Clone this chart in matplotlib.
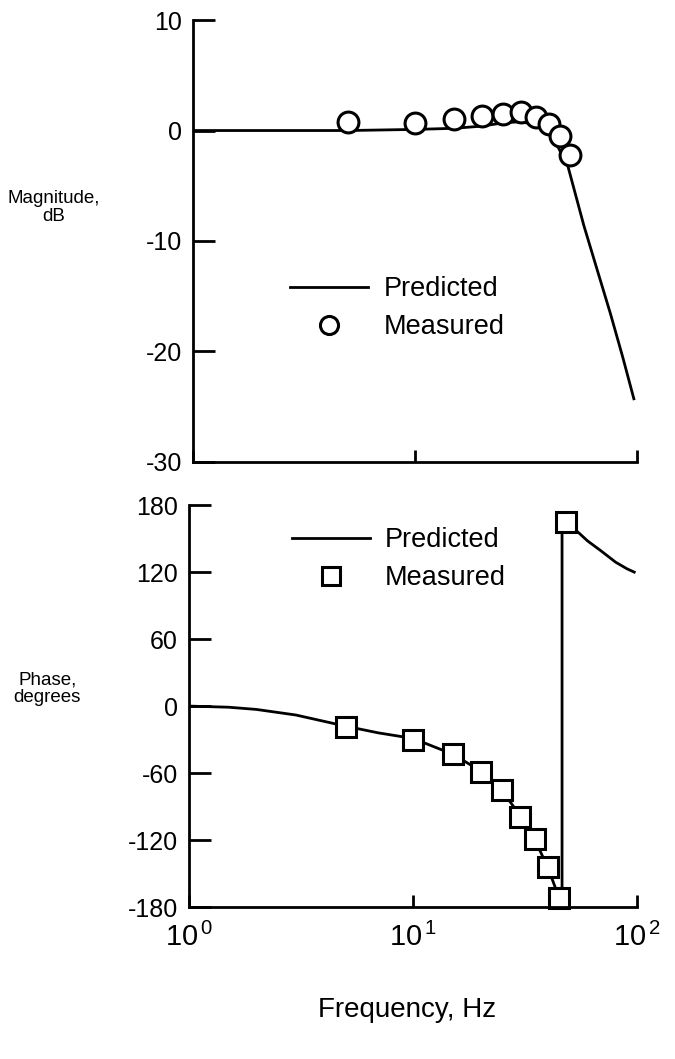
import matplotlib.pyplot as plt
from matplotlib.lines import Line2D

plt.rcParams['font.family'] = ['Liberation Sans', 'DejaVu Sans']
plt.rcParams['mathtext.fontset'] = 'custom'
plt.rcParams['mathtext.rm'] = 'Liberation Sans'
plt.rcParams['mathtext.it'] = 'Liberation Sans'
plt.rcParams['axes.unicode_minus'] = False

# magnitude data
mag_freq = [5, 10, 15, 20, 25, 30, 35, 40, 45, 50]
mag_meas = [0.75, 0.65, 1.0, 1.3, 1.5, 1.7, 1.2, 0.6, -0.5, -2.2]
mag_pred_freq = [1, 5, 10, 15, 20, 25, 30, 35, 40, 44, 48.7, 57.5, 66, 75.8, 86, 96.6]
mag_pred = [0, 0, 0.1, 0.2, 0.4, 0.7, 0.8, 0.5, -0.3, -1.5, -3.2, -8.6, -12.6, -16.6, -20.5, -24.3]

# phase data
phase_freq = [5, 10, 15, 20, 25, 30, 35, 40, 45, 48]
phase_meas = [-19, -30, -43, -59, -75, -99, -119, -144, -172, 165]
phase_pred_freq = [1, 1.5, 2, 3, 5, 7, 10, 15, 20, 25, 30, 35, 40, 43, 46.2,
                   46.2, 48, 50, 55, 60, 69, 80, 90, 97]
phase_pred = [0, -1, -3, -8, -18, -24, -29, -43, -58, -76, -98, -120, -145, -162, -180,
              172, 166, 162, 155, 148, 139, 129, 123, 120]

mag_ticks = [-30, -20, -10, 0, 10]
phase_ticks = [-180, -120, -60, 0, 60, 120, 180]
freq_ticks = [1, 10, 100]
freq_labels = [r'$10^{\,0}$', r'$10^{\,1}$', r'$10^{\,2}$']

fig = plt.figure(figsize=(6.75, 10.59), dpi=100)
ax1 = fig.add_axes([0.286, 0.564, 0.658, 0.417])
ax2 = fig.add_axes([0.280, 0.1435, 0.664, 0.3795])

lw = 2.0
for ax in (ax1, ax2):
    ax.set_xscale('log')
    ax.set_xlim(1, 100)
    ax.spines['top'].set_visible(False)
    ax.spines['right'].set_visible(False)
    ax.spines['left'].set_linewidth(2)
    ax.spines['bottom'].set_linewidth(2)
    ax.set_xticks(freq_ticks)
    ax.minorticks_off()
    ax.tick_params(axis='y', direction='in', length=16, width=2, labelsize=18, pad=8)
    ax.tick_params(axis='x', direction='in', length=9, width=2, labelsize=21, pad=11)

# magnitude
ax1.plot(mag_pred_freq, mag_pred, color='black', lw=lw)
ax1.plot(mag_freq, mag_meas, 'o', ms=15, mfc='white', mec='black', mew=2.2, clip_on=False)
ax1.set_ylim(-30, 10)
ax1.set_yticks(mag_ticks)
ax1.tick_params(axis='x', labelbottom=False)

leg1 = [Line2D([], [], color='black', lw=lw),
        Line2D([], [], ls='none', marker='o', ms=13, mfc='white', mec='black', mew=2.2)]
ax1.legend(leg1, ['Predicted', 'Measured'], loc='upper left', bbox_to_anchor=(0.218, 0.42),
           frameon=False, fontsize=19.5, handlelength=2.9, handletextpad=0.55,
           borderpad=0, borderaxespad=0, labelspacing=0.45)

# phase
ax2.plot(phase_pred_freq, phase_pred, color='black', lw=lw)
ax2.plot(phase_freq, phase_meas, 's', ms=15, mfc='white', mec='black', mew=2.2, clip_on=False)
ax2.set_ylim(-180, 180)
ax2.set_yticks(phase_ticks)
ax2.set_xticklabels(freq_labels)

leg2 = [Line2D([], [], color='black', lw=lw),
        Line2D([], [], ls='none', marker='s', ms=13, mfc='white', mec='black', mew=2.2)]
ax2.legend(leg2, ['Predicted', 'Measured'], loc='upper left', bbox_to_anchor=(0.229, 0.945),
           frameon=False, fontsize=19.5, handlelength=2.9, handletextpad=0.55,
           borderpad=0, borderaxespad=0, labelspacing=0.45)

fig.text(0.079, 0.804, 'Magnitude,\ndB', ha='center', va='center', fontsize=13.5, linespacing=1.05)
fig.text(0.070, 0.350, 'Phase,\ndegrees', ha='center', va='center', fontsize=13.5, linespacing=1.05)
fig.text(0.603, 0.046, 'Frequency, Hz', ha='center', va='center', fontsize=20)

fig.savefig('out.png', dpi=100)
